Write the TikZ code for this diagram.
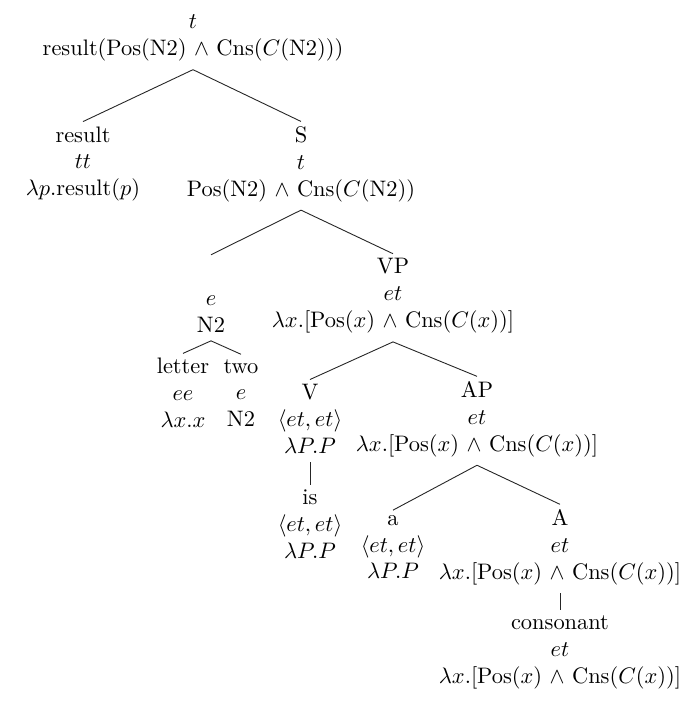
\documentclass[tikz,border=0pt]{standalone}
\usetikzlibrary{positioning}
\tikzset{
  cat/.style={
    align=center,
    inner sep=2pt
  },
  branch/.style={
    draw=black!85,
    line width=.4pt
  }
}
\newcommand{\semand}{$\wedge$}
\begin{document}
\begin{tikzpicture}[x=0.446pt,y=-0.446pt]
\useasboundingbox (0,0) rectangle (698,712);
% root and first split
\node[cat] (root) at (193,38) {$t$\\result(Pos(N2) \semand{} Cns($C$(N2)))};
\node[cat] (res) at (83,164) {result\\$tt$\\$\lambda p$.result($p$)};
\node[cat] (s) at (301,164) {S\\$t$\\Pos(N2) \semand{} Cns($C$(N2))};
% subject and predicate
\node[cat] (subj) at (211,296) {\strut\\$e$\\N2};
\node[cat] (vp) at (393,296) {VP\\$et$\\$\lambda x$.[Pos($x$) \semand{} Cns($C$($x$))]};
\node[cat] (letter) at (183,393) {letter\\$ee$\\$\lambda x.x$};
\node[cat] (two) at (241,393) {two\\$e$\\N2};
\node[cat] (v) at (310,419) {V\\$\langle et,et\rangle$\\$\lambda P.P$};
\node[cat] (ap) at (477,419) {AP\\$et$\\$\lambda x$.[Pos($x$) \semand{} Cns($C$($x$))]};
\node[cat] (is) at (310,524) {is\\$\langle et,et\rangle$\\$\lambda P.P$};
\node[cat] (a) at (393,547) {a\\$\langle et,et\rangle$\\$\lambda P.P$};
\node[cat] (adj) at (560,547) {A\\$et$\\$\lambda x$.[Pos($x$) \semand{} Cns($C$($x$))]};
\node[cat] (cons) at (560,652) {consonant\\$et$\\$\lambda x$.[Pos($x$) \semand{} Cns($C$($x$))]};
% branches
\foreach \mother/\daughter in {%
  root/res, root/s,
  s/subj, s/vp,
  subj/letter, subj/two,
  vp/v, vp/ap,
  v/is,
  ap/a, ap/adj,
  adj/cons%
} {
  \draw[branch] ([yshift=-1.6pt]\mother.south) -- (\daughter.north);
}
\end{tikzpicture}
\end{document}
